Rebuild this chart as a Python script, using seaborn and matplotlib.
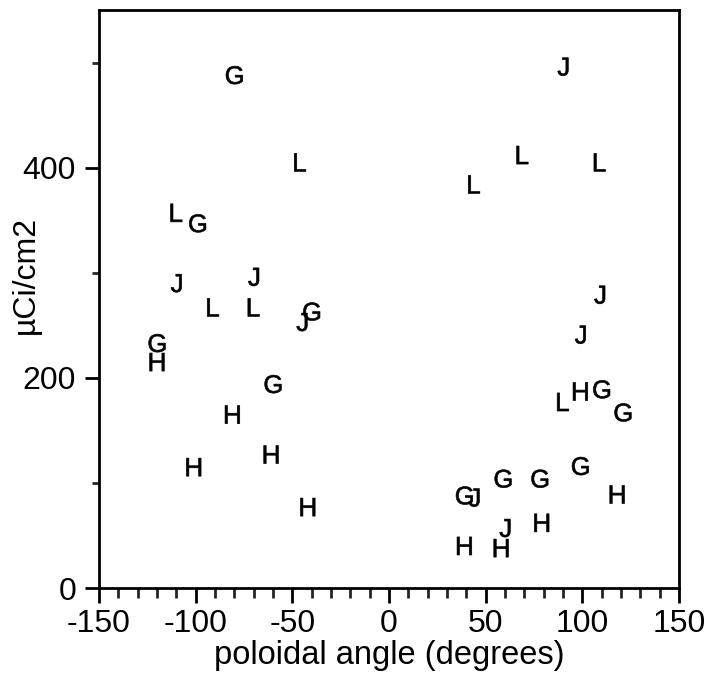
import numpy as np
import pandas as pd
import seaborn as sns
import matplotlib
matplotlib.use("Agg")
import matplotlib.pyplot as plt
from matplotlib.ticker import MultipleLocator

# ---- data ----
g_angle = [-80, -99, -40, -120, -60, 39, 59, 78, 99, 110, 121]
g_value = [488, 347, 263, 233, 194, 88, 104, 104, 116, 189, 167]

h_angle = [-120, -81, -61, -101, -42, 39, 58, 79, 99, 118]
h_value = [215, 165, 127, 115, 77, 40, 38, 62, 187, 89]

j_angle = [-110, -70, -45, 44, 60, 90, 99, 109]
j_value = [290, 296, 253, 86, 57, 496, 241, 279]

l_angle = [-110, -91, -70, -46, 44, 69, 90, 109]
l_value = [357, 267, 267, 405, 384, 412, 177, 405]

x_label = "poloidal angle (degrees)"
y_label = "\u00b5Ci/cm2"

frames = []
for name, a, v in [("G", g_angle, g_value), ("H", h_angle, h_value),
                   ("J", j_angle, j_value), ("L", l_angle, l_value)]:
    frames.append(pd.DataFrame({"angle": a, "value": v, "series": name}))
df = pd.concat(frames, ignore_index=True)

sns.set_style("ticks")
plt.rcParams["font.family"] = ["Liberation Sans", "DejaVu Sans"]
plt.rcParams["mathtext.fontset"] = "custom"
plt.rcParams["mathtext.rm"] = "Liberation Sans"
plt.rcParams["axes.unicode_minus"] = False

fig = plt.figure(figsize=(7.07, 6.86), dpi=100)
ax = fig.add_axes([99 / 707, 1 - 588 / 686, 580 / 707, 578 / 686])

markers = {k: r"$\mathrm{%s}$" % k for k in ["G", "H", "J", "L"]}
sns.scatterplot(data=df, x="angle", y="value", style="series", markers=markers,
                color="black", edgecolor="black", s=13 ** 2, linewidth=0.45,
                legend=False, ax=ax)
for coll in ax.collections:
    coll.set_snap(False)

ax.set_xlim(-150, 150)
ax.set_ylim(0, 550)
ax.xaxis.set_major_locator(MultipleLocator(50))
ax.xaxis.set_minor_locator(MultipleLocator(10))
ax.yaxis.set_major_locator(MultipleLocator(200))
ax.yaxis.set_minor_locator(MultipleLocator(100))

for s in ax.spines.values():
    s.set_linewidth(2)
    s.set_color("black")

ax.tick_params(axis="x", which="major", length=11, width=2, direction="out",
               labelsize=23, pad=4, colors="black")
ax.tick_params(axis="x", which="minor", length=7, width=2, direction="out")
ax.tick_params(axis="y", which="major", length=10, width=2, direction="out",
               labelsize=23, pad=6.5, colors="black")
ax.tick_params(axis="y", which="minor", length=5, width=2, direction="out")

ax.set_xlabel(x_label, fontsize=23.5, color="black", labelpad=1)
ax.set_ylabel(y_label, fontsize=23, color="black")
ax.yaxis.set_label_coords(-0.10, 0.541)

fig.savefig("out.png", dpi=100, facecolor="white")
